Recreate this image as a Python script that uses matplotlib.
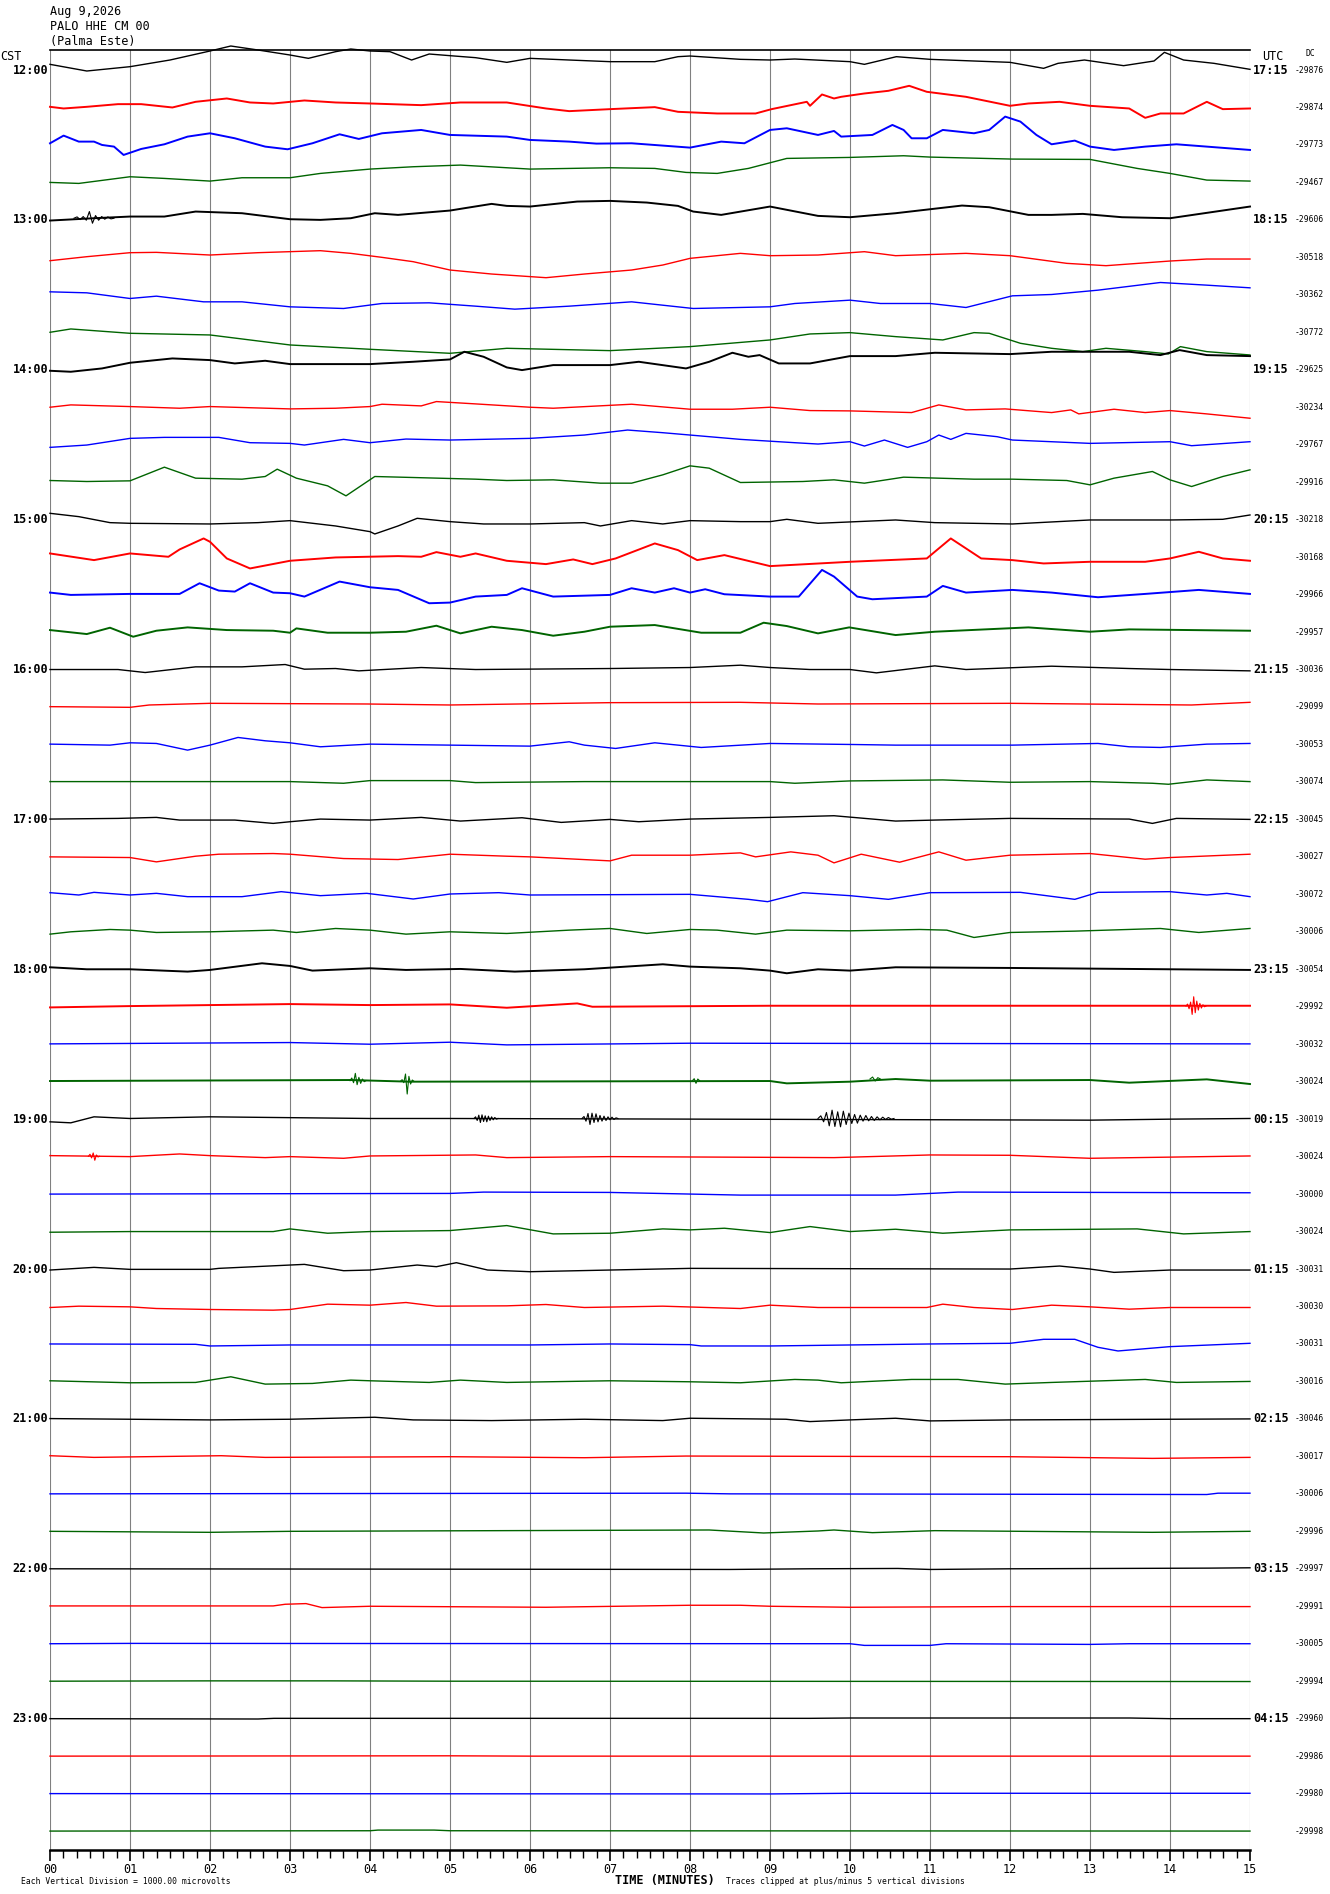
import numpy as np
import matplotlib
matplotlib.use("Agg")
import matplotlib.pyplot as plt
from matplotlib.ticker import MultipleLocator

# ---------------- data ----------------
title_lines = ["Aug 9,2026", "PALO HHE CM 00", "(Palma Este)"]
cst_labels = ["12:00", "13:00", "14:00", "15:00", "16:00", "17:00",
              "18:00", "19:00", "20:00", "21:00", "22:00", "23:00"]
utc_labels = ["17:15", "18:15", "19:15", "20:15", "21:15", "22:15",
              "23:15", "00:15", "01:15", "02:15", "03:15", "04:15"]
minute_labels = ["00", "01", "02", "03", "04", "05", "06", "07", "08",
                 "09", "10", "11", "12", "13", "14", "15"]
dc_values = [-29876, -29874, -29773, -29467, -29606, -30518, -30362, -30772,
             -29625, -30234, -29767, -29916, -30218, -30168, -29966, -29957,
             -30036, -29099, -30053, -30074, -30045, -30027, -30072, -30006,
             -30054, -29992, -30032, -30024, -30019, -30024, -30000, -30024,
             -30031, -30030, -30031, -30016, -30046, -30017, -30006, -29996,
             -29997, -29991, -30005, -29994, -29960, -29986, -29980, -29998]

# each trace: (minute, amplitude) pairs; amplitude positive = up
tr_1200 = [(0,17),(0.46,-3),(1.0,10),(1.5,30),(2.0,57),(2.26,72),(2.6,60),(3.0,45),(3.23,35),(3.57,55),(3.76,63),(4.0,57),(4.25,55),(4.52,30),(4.74,48),(5.0,43),(5.32,37),(5.71,23),(6.0,35),(6.49,30),(7.0,25),(7.56,25),(7.85,40),(8.0,42),(8.63,32),(9.0,30),(9.31,33),(10.0,25),(10.18,17),(10.58,40),(11.0,32),(11.55,27),(12.0,23),(12.42,5),(12.6,20),(12.93,30),(13.42,13),(13.8,27),(13.93,53),(14.17,30),(14.55,20),(15.0,2)]
tr_1215 = [(0,2),(0.17,-3),(0.46,2),(0.85,10),(1.14,10),(1.53,0),(1.82,17),(2.21,27),(2.5,15),(2.79,12),(3.18,21),(3.57,15),(4.0,12),(4.64,7),(5.13,15),(5.71,15),(6.2,-3),(6.49,-11),(7.0,-5),(7.56,1),(7.85,-13),(8.34,-18),(8.82,-18),(9.02,-5),(9.46,17),(9.5,5),(9.65,39),(9.8,27),(9.89,32),(10.18,42),(10.48,50),(10.74,65),(10.96,47),(11.45,32),(12.0,5),(12.23,12),(12.62,17),(13.0,5),(13.49,-3),(13.69,-31),(13.88,-18),(14.17,-18),(14.46,17),(14.66,-5),(15.0,-3)]
tr_1230 = [(0,5),(0.17,28),(0.36,10),(0.55,10),(0.65,0),(0.8,-5),(0.92,-30),(1.14,-12),(1.43,2),(1.72,25),(2.0,35),(2.31,20),(2.69,-5),(2.97,-13),(3.28,5),(3.62,32),(3.86,18),(4.15,35),(4.64,45),(5.0,30),(5.71,25),(6.0,15),(6.49,10),(6.83,4),(7.27,5),(8.0,-8),(8.39,10),(8.68,5),(9.0,45),(9.21,50),(9.6,30),(9.8,42),(9.89,25),(10.28,30),(10.53,60),(10.67,45),(10.77,20),(10.96,20),(11.16,45),(11.55,35),(11.74,45),(11.94,85),(12.13,70),(12.33,30),(12.52,2),(12.81,13),(13.0,-5),(13.3,-15),(13.69,-5),(14.08,2),(14.46,-5),(15.0,-15)]
tr_1245 = [(0,0),(0.36,-3),(1.0,17),(1.43,12),(2.0,4),(2.4,14),(3.0,14),(3.38,27),(4.0,40),(4.54,47),(5.13,52),(6.0,40),(7.0,44),(7.56,42),(7.95,30),(8.34,27),(8.73,42),(9.21,72),(10.0,75),(10.67,80),(11.0,76),(12.03,70),(13.0,69),(13.59,42),(14.0,27),(14.46,7),(15.0,4)]
tr_1300 = [(0,-2),(0.55,5),(1.0,10),(1.43,10),(1.82,25),(2.4,20),(3.0,2),(3.38,0),(3.76,5),(4.06,20),(4.35,15),(5.0,28),(5.18,35),(5.52,48),(5.71,42),(6.0,40),(6.59,55),(7.0,57),(7.46,52),(7.85,42),(8.04,25),(8.39,15),(9.0,40),(9.6,12),(10.0,8),(10.57,20),(11.4,43),(11.74,38),(12.23,15),(12.52,15),(12.91,18),(13.4,8),(14.0,5),(15.0,40)]
tr_1315 = [(0,-10),(0.46,2),(1.0,14),(1.33,15),(2.0,7),(2.6,14),(3.38,20),(3.76,12),(4.15,0),(4.54,-13),(5.0,-38),(5.52,-50),(6.2,-61),(6.68,-50),(7.27,-38),(7.66,-23),(8.0,-3),(8.63,12),(9.0,5),(9.6,7),(10.18,17),(10.57,5),(11.45,12),(12.0,5),(12.71,-18),(13.2,-25),(14.0,-11),(14.46,-5),(15.0,-5)]
tr_1330 = [(0,9),(0.46,6),(1.0,-11),(1.33,-4),(1.92,-21),(2.4,-21),(3.0,-36),(3.67,-41),(4.15,-26),(4.74,-24),(5.32,-34),(5.81,-43),(6.49,-34),(7.27,-21),(8.04,-41),(9.0,-36),(9.31,-26),(10.0,-16),(10.38,-26),(11.0,-26),(11.45,-38),(12.03,-3),(12.52,1),(13.1,14),(13.88,37),(14.46,29),(15.0,21)]
tr_1345 = [(0,0),(0.26,10),(1.0,-3),(2.0,-8),(3.0,-38),(4.0,-51),(5.0,-63),(5.71,-48),(7.0,-55),(8.0,-43),(9.0,-23),(9.5,-5),(10.0,-1),(10.57,-13),(11.16,-23),(11.55,-1),(11.74,-3),(12.13,-33),(12.52,-48),(12.91,-58),(13.2,-48),(13.69,-58),(13.98,-65),(14.13,-43),(14.46,-58),(15.0,-68)]
tr_1400 = [(0,-3),(0.26,-6),(0.65,4),(1.0,21),(1.53,34),(2.0,29),(2.31,19),(2.69,27),(3.0,17),(3.38,17),(4.0,17),(4.54,24),(5.0,31),(5.18,54),(5.42,39),(5.71,7),(5.9,-1),(6.29,14),(7.0,14),(7.36,24),(7.95,4),(8.24,24),(8.53,51),(8.73,39),(8.87,44),(9.11,19),(9.5,19),(10.0,41),(10.57,41),(11.06,51),(12.0,47),(12.52,54),(13.49,54),(13.88,44),(14.12,59),(14.46,44),(15.0,41)]
tr_1415 = [(0,0),(0.26,7),(1.0,2),(1.62,-3),(2.0,2),(3.0,-5),(3.57,-3),(4.0,2),(4.15,9),(4.64,4),(4.83,17),(5.32,10),(6.0,0),(6.29,-3),(7.27,9),(8.0,-6),(8.53,-6),(9.0,0),(9.5,-10),(10.0,-11),(10.77,-16),(11.11,7),(11.45,-8),(11.94,-5),(12.52,-16),(12.76,-8),(12.86,-20),(13.3,-6),(13.69,-16),(14.0,-10),(14.46,-20),(15.0,-33)]
tr_1430 = [(0,-8),(0.46,-1),(1.0,19),(1.43,22),(2.11,22),(2.5,6),(3.0,4),(3.18,-1),(3.67,16),(4.0,6),(4.45,17),(5.0,14),(6.0,19),(6.68,29),(7.22,44),(7.66,36),(8.0,29),(8.63,16),(9.31,6),(9.6,2),(10.0,9),(10.18,-4),(10.43,14),(10.72,-8),(10.96,9),(11.11,29),(11.26,16),(11.45,34),(11.84,24),(12.03,14),(13.0,4),(14.0,9),(14.27,-3),(15.0,9)]
tr_1445 = [(0,5),(0.46,2),(1.0,4),(1.43,45),(1.82,12),(2.4,9),(2.69,17),(2.84,39),(3.08,12),(3.47,-11),(3.7,-41),(4.06,17),(4.54,14),(5.32,9),(5.71,5),(6.29,7),(6.88,-3),(7.27,-3),(7.66,22),(8.0,49),(8.24,42),(8.63,-1),(9.41,2),(9.8,7),(10.18,-3),(10.67,15),(11.55,9),(12.03,9),(12.71,5),(13.0,-8),(13.3,12),(13.78,32),(14.0,7),(14.27,-13),(14.66,17),(15.0,37)]
tr_1500 = [(0,19),(0.36,9),(0.75,-9),(1.0,-11),(2.0,-13),(2.6,-9),(3.0,-3),(3.57,-19),(4.0,-36),(4.06,-43),(4.35,-19),(4.59,4),(5.0,-6),(5.42,-13),(6.0,-13),(6.68,-9),(6.88,-19),(7.27,-3),(7.66,-13),(8.0,-3),(8.63,-6),(9.0,-6),(9.21,1),(9.6,-11),(10.57,-1),(11.06,-9),(12.03,-13),(13.0,-1),(14.0,-1),(14.66,1),(15.0,14)]
tr_1515 = [(0,11),(0.55,-9),(1.0,11),(1.48,1),(1.62,23),(1.92,56),(2.0,46),(2.21,-4),(2.5,-34),(3.0,-11),(3.57,-1),(4.35,3),(4.64,1),(4.83,15),(5.13,1),(5.32,11),(5.71,-11),(6.2,-21),(6.54,-7),(6.78,-21),(7.07,-4),(7.56,41),(7.85,21),(8.09,-9),(8.43,6),(9.0,-27),(10.0,-14),(10.96,-4),(11.26,56),(11.64,-4),(12.03,-9),(12.42,-19),(13.0,-14),(13.69,-14),(14.0,-4),(14.36,16),(14.66,-4),(15.0,-11)]
tr_1530 = [(0,6),(0.26,-1),(1.0,2),(1.62,2),(1.87,34),(2.11,12),(2.31,9),(2.5,34),(2.79,6),(3.0,4),(3.18,-6),(3.62,39),(4.0,22),(4.35,14),(4.74,-26),(5.0,-24),(5.32,-6),(5.71,-1),(5.9,19),(6.29,-6),(7.0,-1),(7.27,19),(7.56,6),(7.8,19),(8.0,6),(8.19,16),(8.43,1),(9.0,-6),(9.36,-6),(9.65,74),(9.8,54),(10.09,-6),(10.28,-14),(10.96,-6),(11.16,26),(11.45,6),(12.03,14),(12.52,6),(13.1,-8),(13.69,2),(14.36,14),(15.0,2)]
tr_1545 = [(0,6),(0.46,-6),(0.75,13),(1.04,-14),(1.33,4),(1.72,14),(2.21,6),(2.79,4),(3.0,-2),(3.08,11),(3.47,-2),(4.0,-2),(4.45,1),(4.83,19),(5.13,-4),(5.52,16),(5.9,6),(6.29,-11),(6.68,1),(7.0,16),(7.56,21),(8.14,-2),(8.63,-2),(8.92,28),(9.21,18),(9.6,-4),(9.99,14),(10.57,-9),(11.06,1),(12.23,14),(13.0,1),(13.49,8),(15.0,4)]
tr_1600 = [(0,0),(0.85,0),(1.19,-9),(1.82,8),(2.4,8),(2.94,15),(3.18,1),(3.57,3),(3.86,-4),(4.64,6),(5.32,0),(7.0,3),(8.0,6),(8.63,13),(9.0,6),(9.5,0),(10.0,0),(10.33,-10),(11.06,11),(11.45,0),(12.52,10),(13.49,3),(14.0,0),(15.0,-4)]
tr_1615 = [(0,1),(1.0,-1),(1.24,6),(2.0,11),(3.96,9),(5.0,6),(7.0,13),(8.63,14),(9.6,9),(12.0,11),(14.27,6),(15.0,14)]
tr_1630 = [(0,1),(0.75,-2),(1.0,5),(1.33,3),(1.72,-17),(2.0,-2),(2.35,21),(2.69,11),(3.0,5),(3.38,-7),(3.76,-2),(4.0,1),(5.0,-2),(6.0,-5),(6.49,8),(6.68,-2),(7.07,-12),(7.56,5),(8.14,-9),(9.0,3),(10.0,0),(10.57,-2),(12.03,-2),(13.1,3),(13.49,-7),(13.88,-9),(14.46,1),(15.0,3)]
tr_1645 = [(0,1),(3.0,1),(3.67,-4),(4.0,4),(5.0,4),(5.32,-2),(6.68,1),(9.0,1),(9.31,-4),(10.0,3),(11.16,6),(12.0,-1),(13.0,1),(13.78,-4),(13.98,-7),(14.46,6),(15.0,1)]
tr_1700 = [(0,1),(0.85,3),(1.33,6),(1.62,-2),(2.31,-2),(2.79,-12),(3.0,-7),(3.38,1),(4.0,-2),(4.64,6),(5.13,-5),(5.9,5),(6.39,-9),(7.0,0),(7.36,-7),(8.0,1),(9.0,6),(9.8,11),(10.57,-5),(11.06,-2),(12.0,3),(13.49,1),(13.78,-12),(14.08,3),(15.0,0)]
tr_1715 = [(0,0),(1.0,-2),(1.33,-15),(1.82,2),(2.11,8),(2.79,10),(3.0,8),(3.67,-5),(4.35,-8),(5.0,8),(5.71,2),(6.0,0),(7.0,-12),(7.27,5),(8.0,5),(8.63,12),(8.82,0),(9.26,15),(9.6,5),(9.8,-18),(10.14,8),(10.62,-16),(11.11,15),(11.45,-10),(12.0,5),(13.0,10),(13.69,-7),(14.0,-2),(15.0,8)]
tr_1730 = [(0,5),(0.36,-2),(0.55,6),(1.0,-2),(1.33,3),(1.72,-7),(2.4,-7),(2.89,8),(3.38,-4),(3.96,3),(4.54,-14),(5.0,1),(5.61,5),(6.0,-2),(8.0,0),(8.73,-15),(8.97,-22),(9.41,5),(10.0,-4),(10.48,-15),(11.0,5),(12.13,6),(12.81,-15),(13.1,6),(14.0,8),(14.46,-2),(14.71,3),(15.0,-7)]
tr_1745 = [(0,-7),(0.26,0),(0.75,7),(1.0,5),(1.33,-2),(2.0,0),(2.79,5),(3.08,-2),(3.57,10),(4.0,5),(4.45,-7),(5.0,0),(5.71,-5),(6.49,5),(7.0,10),(7.46,-5),(8.0,7),(8.34,5),(8.82,-7),(9.21,5),(10.0,3),(10.87,7),(11.21,5),(11.55,-17),(12.0,-2),(12.81,2),(13.88,10),(14.36,-2),(15.0,10)]
tr_1800 = [(0,6),(0.46,0),(1.0,0),(1.72,-7),(2.0,-2),(2.65,18),(3.0,10),(3.28,-4),(4.0,3),(4.45,-2),(5.13,1),(5.81,-7),(6.68,0),(7.66,15),(8.0,8),(8.63,3),(9.0,-4),(9.21,-12),(9.6,0),(10.0,-4),(10.57,6),(12.0,4),(15.0,-2)]
tr_1815 = [(0,-2),(1.0,2),(3.0,8),(4.0,5),(5.0,7),(5.71,-3),(6.59,10),(6.78,0),(9.0,3),(15.0,3)]
tr_1830 = [(0,1),(3.0,5),(4.0,0),(5.0,6),(5.71,-2),(8.0,3),(15.0,1)]
tr_1845 = [(0,2),(3.76,5),(4.5,0),(9.0,2),(9.21,-5),(10.0,0),(10.57,8),(11.0,3),(13.0,5),(13.49,-3),(14.46,7),(15.0,-7)]
tr_1900 = [(0,-8),(0.26,-11),(0.55,7),(1.0,2),(2.0,7),(4.0,2),(5.0,2),(13.0,-3),(14.0,0),(15.0,2)]
tr_1915 = [(0,3),(1.0,0),(1.62,8),(2.0,3),(2.69,-3),(3.0,0),(3.67,-5),(4.0,2),(5.32,5),(5.71,-3),(7.0,0),(9.8,-3),(11.0,5),(12.0,4),(13.0,-5),(15.0,2)]
tr_1930 = [(0,0),(5.0,2),(5.42,6),(7.0,5),(8.63,-3),(10.57,-3),(11.35,6),(15.0,4)]
tr_1945 = [(0,-2),(1.0,0),(2.79,0),(3.0,8),(3.47,-5),(4.0,0),(5.0,3),(5.71,18),(6.29,-7),(7.0,-5),(7.66,8),(8.0,5),(8.43,10),(9.0,-3),(9.5,15),(10.0,0),(10.57,7),(11.16,-5),(12.0,5),(13.59,8),(14.17,-7),(15.0,0)]
tr_2000 = [(0,-3),(0.55,5),(1.0,-1),(2.0,-1),(2.11,2),(3.0,12),(3.18,14),(3.67,-5),(4.0,-3),(4.59,12),(4.83,7),(5.08,19),(5.47,-3),(6.0,-8),(7.0,-3),(8.0,2),(12.0,0),(12.62,9),(13.0,0),(13.3,-10),(14.0,-3),(15.0,-3)]
tr_2015 = [(0,-3),(0.36,1),(1.0,-1),(1.33,-6),(2.0,-9),(2.79,-11),(3.0,-9),(3.47,7),(4.0,4),(4.45,12),(4.83,1),(5.71,2),(6.2,6),(6.68,-3),(7.66,1),(8.63,-6),(9.0,4),(9.6,-3),(10.96,-3),(11.16,7),(11.55,-3),(12.03,-9),(12.52,4),(13.0,-1),(13.49,-8),(14.0,-3),(15.0,-3)]
tr_2030 = [(0,0),(1.82,-1),(2.0,-6),(3.0,-3),(6.0,-3),(7.0,0),(8.0,-2),(8.14,-6),(9.0,-6),(11.0,0),(12.0,2),(12.42,14),(12.81,14),(13.1,-10),(13.35,-21),(14.0,-8),(15.0,2)]
tr_2045 = [(0,2),(1.0,-4),(1.82,-3),(2.26,14),(2.69,-8),(3.28,-6),(3.76,4),(4.0,2),(4.74,-3),(5.13,4),(5.71,-3),(7.0,2),(8.0,-1),(8.63,-4),(9.31,6),(9.6,4),(9.89,-4),(10.77,6),(11.35,6),(11.94,-8),(12.52,-3),(13.69,6),(14.08,-3),(15.0,0)]
tr_2100 = [(0,1),(2.0,-3),(3.0,-1),(4.06,5),(4.54,-3),(5.52,-5),(6.68,-1),(7.66,-5),(8.0,2),(9.2,-1),(9.5,-8),(10.0,-3),(10.57,2),(11.0,-6),(12.0,-3),(15.0,0)]
tr_2115 = [(0,2),(0.55,-3),(2.14,2),(2.69,-3),(5.0,-1),(6.68,-4),(7.95,1),(12.0,-1),(13.78,-6),(15.0,-3)]
tr_2130 = [(0,0),(7.95,2),(8.5,0),(14.46,-2),(14.6,2),(15.0,2)]
tr_2145 = [(0,0),(2.0,-3),(3.0,0),(8.24,4),(8.92,-5),(9.6,1),(9.8,4),(10.28,-4),(11.06,2),(13.78,-3),(15.0,0)]
tr_2200 = [(0,0),(8.5,-2),(9.5,0),(10.6,1),(11.0,-2),(12.0,0),(14.5,2),(15.0,3)]
tr_2215 = [(0,1),(2.79,1),(2.94,6),(3.2,8),(3.4,-4),(4.0,0),(6.2,-3),(8.0,3),(8.63,3),(9.0,0),(10.0,-3),(12.0,-1),(15.0,-1)]
tr_2230 = [(0,0),(1.0,1),(10.0,0),(10.18,-5),(11.0,-5),(11.2,0),(13.0,-2),(13.49,0),(15.0,0)]
tr_2245 = [(0,0),(2.0,1),(3.5,1),(5.0,0),(15.0,-1)]
tr_2300 = [(0,0),(2.6,-1),(2.8,1),(9.5,1),(10.0,2),(13.5,2),(14.0,0),(15.0,0)]
tr_2315 = [(0,0),(5.0,1),(6.0,0),(15.0,0)]
tr_2330 = [(0,0),(9.0,-1),(10.0,1),(15.0,1)]
tr_2345 = [(0,0),(4.0,1),(4.1,3),(4.8,3),(5.0,1),(15.0,0)]

traces = [tr_1200, tr_1215, tr_1230, tr_1245, tr_1300, tr_1315, tr_1330, tr_1345,
          tr_1400, tr_1415, tr_1430, tr_1445, tr_1500, tr_1515, tr_1530, tr_1545,
          tr_1600, tr_1615, tr_1630, tr_1645, tr_1700, tr_1715, tr_1730, tr_1745,
          tr_1800, tr_1815, tr_1830, tr_1845, tr_1900, tr_1915, tr_1930, tr_1945,
          tr_2000, tr_2015, tr_2030, tr_2045, tr_2100, tr_2115, tr_2130, tr_2145,
          tr_2200, tr_2215, tr_2230, tr_2245, tr_2300, tr_2315, tr_2330, tr_2345]

# short oscillation bursts: (row, start minute, end minute, level, amplitudes)
bursts = [
    (4, 0.30, 0.80, 5, [0, 4, -4, 5, -6, 20, -15, 8, -6, 5, -3, 4, -2, 0]),
    (25, 14.20, 14.45, 2, [0, 6, -8, 12, -25, 28, -20, 15, -12, 8, -6, 4, -2, 0]),
    (27, 3.75, 3.95, 3, [0, 8, -6, 22, -12, 10, -8, 5, -3, 0]),
    (27, 4.38, 4.55, 1, [0, 5, -4, 22, -38, 15, -8, 4, 0]),
    (27, 8.03, 8.12, 3, [0, 6, -8, 5, 0]),
    (27, 10.25, 10.38, 8, [0, 6, -6, 4, 0]),
    (28, 5.30, 5.60, 2, [0, 5, -6, 10, -12, 11, -9, 8, -10, 7, -6, 5, -4, 3, -2, 0]),
    (28, 6.65, 7.10, 2, [0, 6, -8, 15, -18, 16, -12, 14, -10, 9, -8, 7, -6, 5, -4, 4, -3, 2, 0]),
    (28, 9.60, 10.55, 2, [0, 8, -10, 18, -22, 25, -24, 20, -25, 22, -18, 16, -15, 12, -14,
                           10, -8, 9, -7, 6, -6, 5, -4, 4, -3, 3, -2, 0]),
    (29, 0.48, 0.62, 1, [0, 6, -5, 10, -12, 4, -2, 0]),
]

# ---------------- style ----------------
W, H = 1330, 1894
UNITS_PER_ROW = 112.4
colors = ["#000000", "#ff0000", "#0000ff", "#006400"]
noisy_rows = {1, 2, 4, 8, 13, 14, 15, 24, 25, 27}
MONO = "DejaVu Sans Mono"

fig = plt.figure(figsize=(W / 100, H / 100), dpi=100)
ax = fig.add_axes([50 / W, 1 - 1850 / H, 1200 / W, 1800 / H])
ax.set_xlim(0, 15)
ax.set_ylim(47.505, -0.534)

ax.set_xticks(range(16))
ax.set_xticklabels(minute_labels, family=MONO, fontsize=8.5)
ax.xaxis.set_minor_locator(MultipleLocator(1 / 6))
ax.tick_params(axis="x", which="major", length=8, width=1.2, direction="out", pad=1)
ax.tick_params(axis="x", which="minor", length=6, width=1.0, direction="out")
ax.set_yticks([])
ax.grid(True, axis="x", which="major", color="#808080", lw=0.8)
ax.set_axisbelow(True)
for side in ("left", "right"):
    ax.spines[side].set_visible(False)
ax.spines["top"].set_linewidth(1.2)
ax.spines["bottom"].set_linewidth(1.8)

for i, tr in enumerate(traces):
    t = [p[0] for p in tr]
    v = np.array([p[1] for p in tr], dtype=float)
    y = i - v / UNITS_PER_ROW
    lw = 1.4 if i in noisy_rows else 1.0
    ax.plot(t, y, color=colors[i % 4], lw=lw, clip_on=False, zorder=3)

for row, t0, t1, level, amps in bursts:
    tt = np.linspace(t0, t1, len(amps))
    yy = row - (level + np.array(amps, dtype=float)) / UNITS_PER_ROW
    ax.plot(tt, yy, color=colors[row % 4], lw=0.8, zorder=4)

# hour labels
for k, lab in enumerate(cst_labels):
    ax.annotate(lab, xy=(48, 4 * k), xycoords=("figure pixels", "data"),
                ha="right", va="center", family=MONO, fontsize=8.5, fontweight="bold")
for k, lab in enumerate(utc_labels):
    ax.annotate(lab, xy=(1253, 4 * k), xycoords=("figure pixels", "data"),
                ha="left", va="center", family=MONO, fontsize=8.5, fontweight="bold")
for i, dc in enumerate(dc_values):
    ax.annotate(str(dc), xy=(1295, i), xycoords=("figure pixels", "data"),
                ha="left", va="center", family=MONO, fontsize=5.8)

def ftext(x, y, s, **kw):
    fig.text(x / W, 1 - y / H, s, family=MONO, **kw)

for j, line in enumerate(title_lines):
    ftext(50, 12 + 14.5 * j, line, ha="left", va="center", fontsize=8.5)
ftext(0, 57, "CST", ha="left", va="center", fontsize=8.5)
ftext(1262, 57, "UTC", ha="left", va="center", fontsize=8.5)
ftext(1306, 54, "DC", ha="left", va="center", fontsize=5.8)
ftext(21, 1881, "Each Vertical Division = 1000.00 microvolts", ha="left", va="center", fontsize=5.8)
ftext(665, 1880, "TIME (MINUTES)", ha="center", va="center", fontsize=8.5, fontweight="bold")
ftext(726, 1881, "Traces clipped at plus/minus 5 vertical divisions", ha="left", va="center", fontsize=5.8)

fig.savefig("out.png", dpi=100)
